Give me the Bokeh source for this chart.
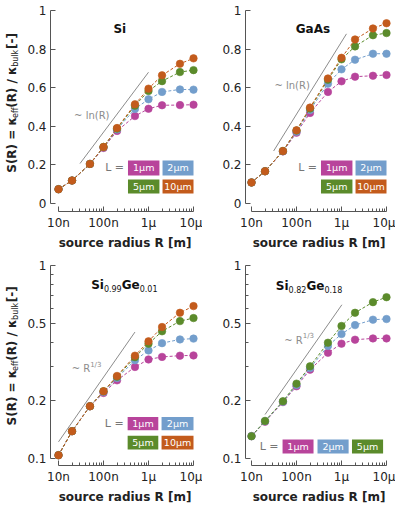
import math
from bokeh.plotting import figure
from bokeh.models import Label, FixedTicker
from bokeh.layouts import row, column
from bokeh.embed import file_html
from bokeh.resources import INLINE

# ---------------- data ----------------
R = [1e-8, 2e-8, 5e-8, 1e-7, 2e-7, 5e-7, 1e-6, 2e-6, 5e-6, 1e-5]

si_1um = [0.074, 0.119, 0.205, 0.288, 0.376, 0.453, 0.491, 0.509, 0.510, 0.512]
si_2um = [0.074, 0.119, 0.205, 0.291, 0.384, 0.490, 0.540, 0.578, 0.591, 0.590]
si_5um = [0.074, 0.119, 0.205, 0.293, 0.388, 0.507, 0.583, 0.634, 0.681, 0.691]
si_10um = [0.074, 0.119, 0.205, 0.293, 0.391, 0.514, 0.595, 0.664, 0.724, 0.752]

gaas_1um = [0.109, 0.167, 0.270, 0.367, 0.469, 0.578, 0.633, 0.657, 0.662, 0.666]
gaas_2um = [0.109, 0.167, 0.271, 0.372, 0.484, 0.621, 0.695, 0.745, 0.776, 0.776]
gaas_5um = [0.109, 0.167, 0.272, 0.378, 0.492, 0.641, 0.747, 0.814, 0.872, 0.883]
gaas_10um = [0.109, 0.167, 0.272, 0.379, 0.497, 0.648, 0.755, 0.850, 0.907, 0.934]

sige01_1um = [0.104, 0.1385, 0.1865, 0.2187, 0.254, 0.298, 0.326, 0.336, 0.341, 0.342]
sige01_2um = [0.104, 0.1385, 0.1865, 0.221, 0.261, 0.323, 0.363, 0.396, 0.414, 0.418]
sige01_5um = [0.104, 0.1385, 0.1865, 0.223, 0.265, 0.335, 0.393, 0.456, 0.515, 0.534]
sige01_10um = [0.104, 0.1385, 0.1865, 0.223, 0.2677, 0.341, 0.4045, 0.480, 0.569, 0.616]

sige18_1um = [0.1305, 0.155, 0.196, 0.2367, 0.2886, 0.353, 0.3936, 0.4126, 0.419, 0.419]
sige18_2um = [0.1305, 0.156, 0.197, 0.240, 0.294, 0.383, 0.4416, 0.491, 0.524, 0.528]
sige18_5um = [0.1305, 0.1566, 0.198, 0.2443, 0.3003, 0.398, 0.486, 0.569, 0.646, 0.685]

# guide lines (~ln(R) and ~R^1/3)
si_guide_x, si_guide_y = [3e-8, 1e-6], [0.207, 0.680]
gaas_guide_x, gaas_guide_y = [3.1e-8, 1.29e-6], [0.272, 0.879]
sige01_guide_x, sige01_guide_y = [1e-8, 5e-7], [0.122, 0.452]
sige18_guide_x, sige18_guide_y = [2e-8, 1.02e-6], [0.169, 0.626]

x_ticks = [1e-8, 1e-7, 1e-6, 1e-5]
x_tick_labels = ["10n", "100n", "1μ", "10μ"]
lin_ticks = [0, 0.2, 0.4, 0.6, 0.8, 1]
lin_tick_labels = ["0", "0.2", "0.4", "0.6", "0.8", "1"]
log_ticks = [0.1, 0.2, 0.5, 1]
log_tick_labels = ["0.1", "0.2", "0.5", "1"]
log_minor = [0.3, 0.4, 0.6, 0.7, 0.8, 0.9]

L_labels = ["1μm", "2μm", "5μm", "10μm"]
COLORS = {"1μm": "#B8449B", "2μm": "#739ECC", "5μm": "#5B8B2B", "10μm": "#C35B1C"}

FONT = "DejaVu Sans"
AXIS_COLOR = "#555555"
TEXT_COLOR = "#222222"
GUIDE_COLOR = "#8c8c8c"

# approximate advance widths (em) for DejaVu Sans
W_BOLD = {"S": .72, "(": .457, ")": .457, "R": .77, " ": .348, "=": .838, "κ": .75,
          "e": .678, "f": .435, "/": .365, "b": .716, "u": .712, "l": .343, "k": .665,
          "[": .457, "-": .415, "]": .457, "i": .343, "G": .821}
W_REG = {"0": .636, "1": .636, "2": .636, "3": .636, "8": .636, "9": .636, ".": .318,
         "~": .838, " ": .318, "R": .695, "/": .337, "l": .278, "n": .634, "(": .39, ")": .39}


def tw(text, size, bold):
    table = W_BOLD if bold else W_REG
    return sum(table.get(c, 0.6) for c in text) * size


ROW_H = 253
LABEL_W = 24


def make_panel(frame_w, border_left, border_right, rowspec, log_y, series, guide_x, guide_y,
               guide_label, title_parts, title_pos, legend):
    top, frame_h, bottom, pad_top, pad_bottom = rowspec
    pad_left, pad_right = (8, 6) if frame_w >= 149 else (6, 6)
    ppd = (frame_w - pad_left - pad_right) / 3.0
    xs = 10 ** (-8 - pad_left / ppd)
    xe = 10 ** (-5 + pad_right / ppd)
    span = frame_h - pad_top - pad_bottom
    if log_y:
        ys = 10 ** (-1 - pad_bottom / span)
        ye = 10 ** (pad_top / span)
    else:
        ys = -pad_bottom / span
        ye = 1 + pad_top / span
    p = figure(frame_width=frame_w, frame_height=frame_h,
               min_border_left=border_left, min_border_right=border_right,
               min_border_top=top, min_border_bottom=bottom,
               x_axis_type="log", y_axis_type=("log" if log_y else "linear"),
               x_range=(xs, xe), y_range=(ys, ye),
               output_backend="svg", toolbar_location=None)
    p.outline_line_color = None
    p.xgrid.visible = False
    p.ygrid.visible = False

    xa = p.xaxis[0]
    xa.ticker = FixedTicker(ticks=x_ticks,
                            minor_ticks=[k * 10.0 ** e for e in (-8, -7, -6) for k in range(2, 10)])
    xa.bounds = (x_ticks[0], x_ticks[-1])
    xa.major_label_overrides = dict(zip(x_ticks, x_tick_labels))
    xa.axis_label = "source radius R [m]"
    ya = p.yaxis[0]
    if log_y:
        ya.ticker = FixedTicker(ticks=log_ticks, minor_ticks=log_minor)
        ya.bounds = (log_ticks[0], log_ticks[-1])
        ya.major_label_overrides = dict(zip(log_ticks, log_tick_labels))
    else:
        ya.ticker = FixedTicker(ticks=lin_ticks, minor_ticks=[])
        ya.bounds = (lin_ticks[0], lin_ticks[-1])
        ya.major_label_overrides = dict(zip(lin_ticks, lin_tick_labels))
    for ax in (xa, ya):
        ax.axis_line_color = AXIS_COLOR
        ax.axis_line_width = 1
        ax.major_tick_line_color = AXIS_COLOR
        ax.minor_tick_line_color = AXIS_COLOR
        ax.major_tick_in = 5
        ax.major_tick_out = 0
        ax.minor_tick_in = 3
        ax.minor_tick_out = 0
        ax.major_label_text_font = FONT
        ax.major_label_text_font_size = "12px"
        ax.major_label_text_color = TEXT_COLOR
        ax.major_label_standoff = 4
    xa.axis_label_text_font = FONT
    xa.axis_label_text_font_size = "12px"
    xa.axis_label_text_font_style = "bold"
    xa.axis_label_text_color = TEXT_COLOR
    xa.axis_label_standoff = 3

    # guide line + label
    p.line(guide_x, guide_y, line_color=GUIDE_COLOR, line_width=1)
    gx, gy, parts = guide_label
    total = sum(tw(t, s, False) for t, s, dy in parts)
    off = -total / 2
    for t, s, dy in parts:
        p.add_layout(Label(x=gx, y=gy, x_offset=off, y_offset=dy, text=t,
                           text_font=FONT, text_font_size=f"{s}px", text_color=GUIDE_COLOR,
                           text_align="left", text_baseline="middle"))
        off += tw(t, s, False)

    # series
    for lab, vals in series:
        c = COLORS[lab]
        p.line(R, vals, line_color=c, line_width=1, line_dash="3 2")
        p.scatter(R, vals, size=7.5, fill_color=c, line_color=c, line_alpha=0.6)

    # title (with subscripts)
    tx, ty = title_pos
    total = sum(tw(t, s, b) for t, s, b, dy in title_parts)
    off = -total / 2
    for t, s, b, dy in title_parts:
        p.add_layout(Label(x=tx, y=ty, x_offset=off, y_offset=dy, text=t,
                           text_font=FONT, text_font_size=f"{s}px",
                           text_font_style="bold" if b else "normal",
                           text_color="#111111", text_align="left", text_baseline="alphabetic"))
        off += tw(t, s, b)

    # legend boxes
    lx, ly, boxes = legend
    p.add_layout(Label(x=lx, y=ly, x_offset=-4, text="L =", text_font=FONT,
                       text_font_size="11px", text_color="#777777",
                       text_align="right", text_baseline="middle"))
    for lab, (x0, x1), (y0, y1) in boxes:
        p.quad(left=[x0], right=[x1], bottom=[y0], top=[y1], fill_color=COLORS[lab],
               line_color=None)
        cx = math.sqrt(x0 * x1)
        cy = math.sqrt(y0 * y1) if log_y else (y0 + y1) / 2
        p.add_layout(Label(x=cx, y=cy, text=lab, text_font=FONT, text_font_size="9.5px",
                           text_color="white", text_align="center", text_baseline="middle"))
    return p


def ylabel_fig(center_from_bottom):
    f = figure(width=LABEL_W, height=ROW_H, x_range=(0, LABEL_W), y_range=(0, ROW_H),
               min_border=0, x_axis_location=None, y_axis_location=None,
               output_backend="svg", toolbar_location=None)
    f.outline_line_color = None
    f.xgrid.visible = False
    f.ygrid.visible = False
    # (text, size, is_subscript)
    parts = [("S(R) = κ", 12, False), ("eff", 8, True), ("(R) / κ", 12, False),
             ("bulk", 8, True), ("[-]", 12, False)]
    widths = [tw(t, s, True) * 1.1 + (2.5 if sub else 1.5) for t, s, sub in parts]
    total = sum(widths)
    y = center_from_bottom - total / 2
    for (t, s, sub), w in zip(parts, widths):
        f.add_layout(Label(x=(14.5 if sub else 11), y=y + w / 2, text=t, angle=math.pi / 2,
                           text_font=FONT, text_font_size=f"{s}px",
                           text_font_style="normal" if sub else "bold",
                           text_color=TEXT_COLOR, text_align="center",
                           text_baseline="middle"))
        y += w
    return f


legend_lin = [("1μm", (3.5e-7, 1.75e-6), (0.145, 0.223)),
              ("2μm", (2.05e-6, 1e-5), (0.145, 0.223)),
              ("5μm", (3.5e-7, 1.75e-6), (0.052, 0.124)),
              ("10μm", (2.05e-6, 1e-5), (0.052, 0.124))]
legend_log4 = [("1μm", (3.44e-7, 1.65e-6), (0.1402, 0.1643)),
               ("2μm", (1.95e-6, 1e-5), (0.1402, 0.1643)),
               ("5μm", (3.44e-7, 1.65e-6), (0.1113, 0.131)),
               ("10μm", (1.95e-6, 1e-5), (0.1113, 0.131))]
legend_log3 = [("1μm", (4.9e-8, 2.39e-7), (0.1061, 0.1254)),
               ("2μm", (2.93e-7, 1.44e-6), (0.1061, 0.1254)),
               ("5μm", (1.71e-6, 8.4e-6), (0.1061, 0.1254))]

ln_label = [("~ ln(R)", 10, 0)]
r13_label = [("~ R", 10, 0), ("1/3", 7, 4)]

ROW1 = (7, 204, 42, 3, 8)    # top border, frame height, bottom border, pad top, pad bottom
ROW2 = (9, 203, 41, 3, 7)

p1 = make_panel(149, 24, 3, ROW1, False,
                [("1μm", si_1um), ("2μm", si_2um), ("5μm", si_5um), ("10μm", si_10um)],
                si_guide_x, si_guide_y, (5.5e-8, 0.457, ln_label),
                [("Si", 12, True, 0)], (2.3e-7, 0.905),
                (3.5e-7, 0.184, legend_lin))
p2 = make_panel(147, 43, 3, ROW1, False,
                [("1μm", gaas_1um), ("2μm", gaas_2um), ("5μm", gaas_5um), ("10μm", gaas_10um)],
                gaas_guide_x, gaas_guide_y, (8e-8, 0.609, ln_label),
                [("GaAs", 12, True, 0)], (2.15e-7, 0.905),
                (3.5e-7, 0.184, legend_lin))
p3 = make_panel(149, 24, 3, ROW2, True,
                [("1μm", sige01_1um), ("2μm", sige01_2um), ("5μm", sige01_5um), ("10μm", sige01_10um)],
                sige01_guide_x, sige01_guide_y, (4.2e-8, 0.292, r13_label),
                [("Si", 12, True, 0), ("0.99", 8, False, -3), ("Ge", 12, True, 0), ("0.01", 8, False, -3)],
                (2.9e-7, 0.79), (3.44e-7, 0.152, legend_log4))
p4 = make_panel(147, 43, 3, ROW2, True,
                [("1μm", sige18_1um), ("2μm", sige18_2um), ("5μm", sige18_5um)],
                sige18_guide_x, sige18_guide_y, (1.14e-7, 0.41, r13_label),
                [("Si", 12, True, 0), ("0.82", 8, False, -3), ("Ge", 12, True, 0), ("0.18", 8, False, -3)],
                (1.9e-7, 0.78), (4.9e-8, 0.1154, legend_log3))

layout = column(row(ylabel_fig(136), p1, p2), row(ylabel_fig(138), p3, p4))
open("out.html", "w").write(file_html(layout, INLINE))
